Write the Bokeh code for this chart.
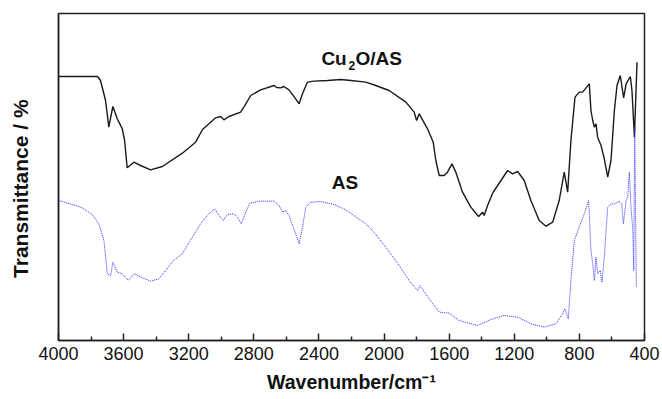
from bokeh.plotting import figure
from bokeh.models import Range1d, FixedTicker, Label
from bokeh.embed import file_html
from bokeh.resources import INLINE

# ---- data (wavenumber in cm-1, transmittance in arbitrary %) ----
cu2o_as_wavenumber = [4000, 3760, 3742, 3711, 3691, 3666, 3639, 3608, 3594, 3578, 3537, 3496,
                      3434, 3362, 3239, 3158, 3115, 3035, 3004, 2984, 2953, 2881, 2861, 2819,
                      2758, 2676, 2660, 2635, 2616, 2584, 2543, 2522, 2501, 2471, 2430, 2348,
                      2266, 2204, 2112, 2051, 1969, 1866, 1815, 1800, 1784, 1733, 1698, 1682,
                      1661, 1631, 1610, 1583, 1559, 1518, 1467, 1419, 1395, 1385, 1364, 1331,
                      1302, 1241, 1210, 1179, 1139, 1098, 1047, 1005, 964, 924, 893, 872, 852,
                      827, 801, 780, 739, 729, 718, 708, 698, 688, 667, 647, 626, 606, 585,
                      569, 549, 528, 513, 487, 477, 462, 446]
cu2o_as_trans = [79.2, 79.2, 78.0, 72.0, 64.0, 70.2, 66.5, 63.5, 60.0, 51.8, 53.5, 52.5,
                 51.2, 52.2, 56.2, 59.5, 63.3, 66.8, 67.2, 66.2, 67.2, 68.5, 70.0, 73.5,
                 75.2, 76.5, 75.9, 75.8, 76.2, 75.2, 72.5, 71.0, 74.0, 77.5, 77.8, 78.0,
                 78.3, 78.0, 77.5, 76.5, 75.0, 71.5, 68.5, 66.0, 68.0, 63.5, 59.5, 54.0,
                 49.5, 49.5, 50.5, 53.0, 50.5, 44.5, 40.0, 37.2, 38.5, 37.5, 40.5, 44.4,
                 46.5, 51.0, 50.0, 50.7, 48.0, 42.0, 36.0, 34.3, 35.5, 42.0, 50.5, 44.5, 60.0,
                 73.0, 74.5, 74.5, 77.0, 69.0, 66.0, 64.0, 65.0, 61.0, 58.5, 54.5, 49.0, 54.0, 69.0,
                 76.5, 79.5, 72.8, 77.0, 79.2, 75.0, 61.0, 83.5]

as_wavenumber = [4000, 3916, 3854, 3793, 3752, 3721, 3700, 3680, 3666, 3639, 3608, 3571,
                 3537, 3485, 3434, 3383, 3342, 3291, 3239, 3178, 3127, 3086, 3041, 3014,
                 2987, 2963, 2922, 2901, 2877, 2850, 2824, 2768, 2676, 2645, 2624, 2604,
                 2584, 2543, 2522, 2501, 2481, 2450, 2389, 2307, 2235, 2112, 2071, 1989,
                 1907, 1846, 1794, 1780, 1723, 1661, 1600, 1539, 1425, 1344, 1262, 1179,
                 1098, 1016, 944, 903, 889, 868, 852, 831, 801, 770, 743, 729, 718, 708,
                 698, 688, 672, 661, 647, 626, 606, 585, 555, 540, 530, 513, 503, 493,
                 483, 472, 466, 460, 450]
as_trans = [42.0, 40.8, 39.8, 37.8, 35.0, 30.0, 20.0, 19.5, 23.5, 20.5, 20.0, 18.0,
            20.0, 18.8, 17.8, 18.5, 21.0, 24.2, 26.0, 31.0, 35.0, 37.5, 39.5, 37.5,
            36.0, 37.8, 38.0, 37.0, 35.0, 38.5, 41.2, 41.8, 41.8, 40.5, 38.5, 39.0,
            37.5, 32.0, 29.0, 34.0, 40.0, 41.5, 41.7, 40.8, 39.2, 35.0, 33.0, 28.0,
            22.5, 18.0, 15.0, 16.5, 12.5, 8.5, 8.2, 6.0, 4.5, 6.3, 7.5, 7.0,
            5.0, 4.0, 5.0, 8.0, 9.5, 6.5, 18.0, 30.0, 34.0, 38.0, 42.0, 27.0, 23.0, 18.0,
            25.0, 20.0, 21.0, 17.5, 25.0, 40.0, 41.0, 41.0, 41.7, 41.0, 35.0, 42.0, 43.0, 50.5,
            40.0, 33.0, 21.0, 64.0, 16.0]

major_ticks = [4000, 3600, 3200, 2800, 2400, 2000, 1600, 1200, 800, 400]
minor_ticks = [3800, 3400, 3000, 2600, 2200, 1800, 1400, 1000, 600]

FONT = "Liberation Sans"

p = figure(width=662, height=399, x_range=Range1d(4000, 400), y_range=Range1d(0, 98.1),
           output_backend="svg", toolbar_location=None,
           min_border_left=58, min_border_right=18, min_border_top=13, min_border_bottom=59)

p.xgrid.visible = False
p.ygrid.visible = False
p.outline_line_color = "#222222"
p.outline_line_width = 1.5
p.background_fill_color = "white"
p.border_fill_color = "white"

p.line(cu2o_as_wavenumber, cu2o_as_trans, line_color="#1a1a1a", line_width=1.4)
p.line(as_wavenumber, as_trans, line_color="#2f2fff", line_width=1.0, line_dash="1 1")

xa = p.xaxis[0]
xa.ticker = FixedTicker(ticks=major_ticks, minor_ticks=minor_ticks)
xa.major_tick_in = 7
xa.major_tick_out = 0
xa.minor_tick_in = 4
xa.minor_tick_out = 0
xa.axis_line_width = 1.5
xa.axis_line_color = "#222222"
xa.major_tick_line_width = 1.5
xa.major_tick_line_color = "#222222"
xa.minor_tick_line_width = 1.5
xa.minor_tick_line_color = "#222222"
xa.major_label_text_font = FONT
xa.major_label_text_font_size = "18px"
xa.major_label_text_color = "#111111"
xa.major_label_standoff = 6
xa.axis_label = "Wavenumber/cm\u207b\u00b9"
xa.axis_label_text_font = FONT
xa.axis_label_text_font_style = "bold"
xa.axis_label_text_font_size = "19.5px"
xa.axis_label_text_color = "#111111"
xa.axis_label_standoff = 8

ya = p.yaxis[0]
ya.ticker = FixedTicker(ticks=[])
ya.axis_line_width = 1.5
ya.axis_line_color = "#222222"
ya.major_tick_line_color = None
ya.minor_tick_line_color = None
ya.axis_label = "Transmittance / %\u00a0\u00a0\u00a0\u00a0"
ya.axis_label_text_font = FONT
ya.axis_label_text_font_style = "bold"
ya.axis_label_text_font_size = "21px"
ya.axis_label_text_color = "#111111"
ya.axis_label_standoff = 27

# series labels
lab_x, lab_y = 2385, 84.5
p.add_layout(Label(x=lab_x, y=lab_y, text="Cu", text_font=FONT, text_font_style="bold",
                   text_font_size="19px", text_baseline="alphabetic", text_color="#111111"))
p.add_layout(Label(x=lab_x, y=lab_y, x_offset=27, y_offset=-7, text="2", text_font=FONT,
                   text_font_style="bold", text_font_size="12px", text_baseline="alphabetic",
                   text_color="#111111"))
p.add_layout(Label(x=lab_x, y=lab_y, x_offset=34, text="O/AS", text_font=FONT,
                   text_font_style="bold", text_font_size="19px", text_baseline="alphabetic",
                   text_color="#111111"))
p.add_layout(Label(x=2321, y=47.5, text="AS", text_font=FONT, text_font_style="bold",
                   text_font_size="19px", text_baseline="alphabetic", text_color="#111111"))

open("out.html", "w").write(file_html(p, INLINE))
